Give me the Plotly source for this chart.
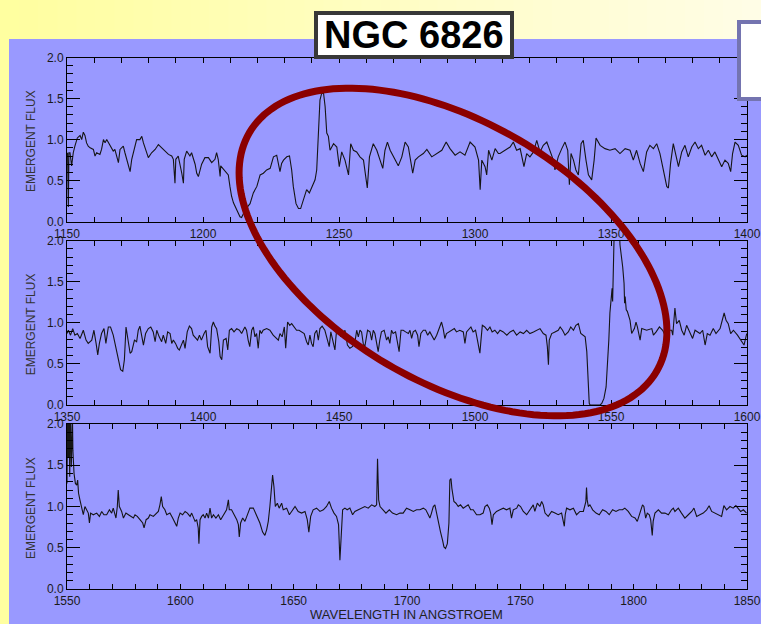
import numpy as np
import plotly.graph_objects as go

W, H = 761, 624

# ---------------- data (wavelength in Angstrom, emergent flux) ----------------
spec1 = [(1150.2,0.84),(1150.5,0.18),(1150.7,0.84),(1151.1,0.84),(1151.7,0.68),(1152.3,0.84),(1152.9,0.92),(1153.8,1.02),(1154.8,1.05),(1155.4,1.00),(1156.0,1.09),(1156.6,1.05),(1157.2,0.96),(1157.8,0.92),(1158.5,0.90),(1159.7,0.88),(1160.3,0.80),(1160.9,0.84),(1162.1,0.82),(1162.7,0.88),(1163.4,1.00),(1164.0,0.96),(1164.6,1.00),(1165.8,0.92),(1167.0,0.86),(1167.6,0.88),(1168.3,0.80),(1168.9,0.72),(1169.5,0.88),(1170.7,0.92),(1171.3,0.84),(1172.6,0.70),(1173.2,0.61),(1173.8,0.76),(1175.0,0.92),(1175.6,1.00),(1176.8,1.00),(1177.5,1.04),(1178.1,0.96),(1179.3,0.84),(1179.9,0.78),(1181.1,0.84),(1182.4,0.88),(1183.6,0.94),(1184.8,0.90),(1186.0,0.86),(1187.3,0.82),(1188.5,0.80),(1189.1,0.76),(1189.7,0.47),(1190.0,0.76),(1190.9,0.80),(1191.5,0.72),(1192.2,0.59),(1192.8,0.47),(1193.1,0.76),(1194.0,0.86),(1195.2,0.80),(1195.8,0.84),(1197.1,0.70),(1197.7,0.59),(1198.3,0.55),(1199.5,0.70),(1200.7,0.78),(1202.0,0.78),(1203.2,0.72),(1204.4,0.76),(1205.0,0.84),(1205.6,0.76),(1206.3,0.55),(1206.5,0.68),(1207.5,0.64),(1208.7,0.59),(1209.3,0.57),(1209.9,0.43),(1210.5,0.31),(1211.2,0.23),(1212.4,0.14),(1213.6,0.06),(1214.2,0.05),(1214.8,0.10),(1215.6,0.15),
 (1217.3,0.22),(1218.5,0.35),(1219.8,0.43),(1221.0,0.57),(1222.2,0.59),(1223.4,0.63),(1224.7,0.65),(1225.9,0.79),(1227.1,0.81),(1228.3,0.61),(1228.9,0.71),(1229.6,0.75),(1230.8,0.79),(1231.8,0.80),(1232.6,0.63),(1233.2,0.43),(1234.2,0.22),(1235.1,0.16),(1235.9,0.16),(1236.9,0.26),(1238.1,0.39),(1239.1,0.35),(1240.3,0.43),(1241.2,0.51),(1241.8,0.63),(1242.4,0.99),(1243.0,1.48),(1243.6,1.56),(1244.3,1.57),(1244.9,1.40),(1245.5,1.08),(1246.1,1.04),(1246.7,0.87),(1248.0,0.95),(1249.2,0.91),(1250.1,0.67),(1251.0,0.85),(1252.2,0.75),(1253.5,0.57),(1254.3,0.95),(1255.3,0.87),(1256.5,0.85),(1257.7,0.79),(1259.0,0.75),(1260.4,0.41),(1261.2,0.79),(1262.6,0.95),(1263.9,0.87),(1265.1,0.75),(1266.1,0.65),(1266.9,0.87),(1267.8,0.97),(1268.8,0.87),(1270.0,0.79),(1271.8,0.68),(1273.1,0.79),(1274.3,0.97),(1275.5,0.91),(1276.4,0.75),(1277.1,0.59),(1278.0,0.75),(1279.2,0.79),(1281.0,0.83),(1282.3,0.88),(1284.1,0.79),(1285.9,0.83),(1287.8,0.87),(1289.4,0.97),(1290.8,0.89),(1292.7,0.81),(1294.5,0.85),(1296.3,0.81),(1298.2,0.97),(1300.0,0.91),(1301.3,0.75),(1301.9,0.39),(1302.5,0.75),(1303.7,0.67),(1304.3,0.57),(1305.0,0.87),(1306.2,0.75),(1307.4,0.89),(1308.6,0.83),
 (1309.2,0.83),(1311.0,0.87),(1312.9,0.91),(1314.1,0.97),(1315.3,0.87),(1316.6,0.89),(1318.0,0.67),(1319.0,0.83),(1320.2,0.79),(1321.5,0.85),(1322.7,0.99),(1323.9,0.85),(1325.1,0.93),(1326.4,0.97),(1327.6,0.85),(1328.8,0.75),(1329.4,0.63),(1330.6,0.79),(1331.9,0.89),(1333.1,0.97),(1334.1,0.87),(1334.7,0.45),(1335.3,0.83),(1336.2,0.75),(1337.1,0.63),(1338.0,0.57),(1339.0,0.95),(1339.8,0.99),(1340.8,0.75),(1341.7,0.57),(1342.9,0.51),(1343.8,0.75),(1344.5,1.02),(1346.0,0.93),(1347.8,0.89),(1349.6,0.87),(1351.5,0.89),(1353.3,0.83),(1355.2,0.89),(1357.0,0.87),(1358.2,0.75),(1359.4,0.87),(1360.7,0.71),(1361.9,0.61),(1363.1,0.85),(1364.3,0.93),(1365.6,0.89),(1366.8,0.95),(1368.0,0.83),(1369.2,0.63),(1370.5,0.43),(1371.1,0.41),(1371.9,0.71),(1372.9,0.95),(1373.9,0.81),(1374.8,0.67),(1376.0,0.85),(1377.2,0.93),(1378.4,0.79),(1379.7,0.91),(1380.9,0.97),(1382.1,0.89),(1383.3,0.93),(1384.6,0.81),(1385.8,0.87),(1387.0,0.79),(1388.2,0.85),(1389.5,0.75),(1390.7,0.67),(1391.9,0.75),(1393.1,0.71),(1394.0,0.61),(1394.7,0.83),(1395.6,0.97),(1396.8,0.93),(1398.0,0.81),(1399.3,0.79),(1399.9,0.81)]

spec2 = [(1350.0,0.87),(1350.5,0.91),(1351.3,0.85),(1352.1,0.93),(1352.9,0.85),(1353.8,0.87),(1354.8,0.81),(1356.0,0.91),(1357.0,0.79),(1357.8,0.75),(1359.1,0.79),(1359.9,0.91),(1360.7,0.75),(1361.3,0.61),(1361.9,0.75),(1362.7,0.87),(1363.6,0.93),(1364.3,0.75),(1365.2,0.95),(1366.0,0.95),(1367.0,0.85),(1367.9,0.71),(1368.9,0.55),(1369.7,0.43),(1370.5,0.41),(1371.1,0.55),(1371.7,0.95),(1372.5,0.79),(1373.2,0.63),(1373.8,0.65),(1374.8,0.79),(1375.6,0.77),(1376.2,0.91),(1376.8,0.96),(1377.5,0.85),(1378.1,0.73),(1378.9,0.87),(1379.9,0.93),(1380.8,0.95),(1381.7,0.89),(1382.4,0.77),(1383.0,0.91),(1383.9,0.83),(1384.8,0.77),(1385.4,0.85),(1386.3,0.75),(1387.0,0.89),(1387.9,0.87),(1388.5,0.75),(1389.1,0.79),(1389.9,0.75),(1390.7,0.69),(1391.3,0.67),(1392.2,0.73),(1392.8,0.79),(1393.4,0.69),(1394.2,0.89),(1395.0,0.96),(1395.8,0.93),(1396.4,0.85),(1397.4,0.81),(1398.0,0.79),(1398.7,0.85),(1399.4,0.79),(1400.4,0.87),(1401.1,0.91),(1401.7,0.71),(1402.6,0.63),(1403.2,0.95),(1403.8,1.01),(1404.4,0.96),(1405.0,0.93),(1405.8,0.77),(1406.3,0.59),(1406.9,0.55),(1407.5,0.79),(1408.5,0.81),(1409.1,0.67),(1409.7,0.91),(1410.5,0.93),(1411.4,0.89),(1412.4,0.93),(1413.4,0.91),(1414.2,0.87),
 (1415.4,0.95),(1416.0,0.91),(1416.6,0.79),(1417.2,0.71),(1417.9,0.91),(1418.5,0.95),(1419.1,0.83),(1419.7,0.87),(1420.3,0.69),(1420.9,0.91),(1421.5,0.87),(1422.1,0.91),(1423.4,0.93),(1424.6,0.91),(1425.8,0.85),(1426.4,0.83),(1427.7,0.79),(1428.3,0.87),(1429.1,0.83),(1429.9,0.95),(1430.4,0.69),(1431.1,1.01),(1431.9,0.97),(1432.6,0.99),(1433.5,0.95),(1434.4,0.91),(1435.3,0.91),(1436.2,0.89),(1437.2,0.87),(1438.1,0.77),(1438.7,0.73),(1439.3,0.85),(1439.9,0.75),(1440.5,0.71),(1441.1,0.87),(1441.8,0.91),(1442.4,0.79),(1443.0,0.93),(1443.8,0.96),(1444.8,0.91),(1445.8,0.79),(1446.4,0.71),(1447.0,0.89),(1447.8,0.79),(1448.5,0.67),(1449.1,0.91),(1450.0,0.91),(1450.7,0.83),(1451.6,0.87),(1452.2,0.91),(1453.1,0.73),(1454.0,0.69),(1454.9,0.71),(1455.8,0.75),(1456.5,0.91),(1457.1,0.83),(1457.7,0.91),(1458.3,0.89),(1458.9,0.75),(1459.5,0.71),(1460.5,0.91),(1461.4,0.89),(1462.0,0.79),(1462.6,0.91),(1463.2,0.87),(1463.8,0.75),(1464.4,0.65),(1465.0,0.79),(1465.6,0.89),(1466.6,0.91),(1467.5,0.79),(1468.1,0.83),(1468.7,0.75),(1469.3,0.91),(1469.9,0.87),(1470.8,0.89),(1471.5,0.77),(1472.1,0.65),(1472.8,0.91),(1473.6,0.91),(1474.5,0.89),(1475.5,0.87),(1476.1,0.91),(1476.7,0.81),(1477.3,0.89),(1478.1,0.91),(1478.9,0.85),(1479.4,0.71),(1480.1,0.87),(1481.0,0.91),(1481.8,0.91),(1482.6,0.85),(1483.4,0.89),(1484.3,0.83),(1485.0,0.79),(1485.9,0.85),(1486.5,0.91),(1487.1,0.95),(1487.7,1.01),(1488.3,0.93),(1488.9,0.81),(1489.5,0.87),(1490.4,0.89),(1491.4,0.91),(1492.4,0.93),(1493.2,0.89),(1494.4,0.91),(1495.7,0.89),(1496.3,0.75),(1496.9,0.89),(1497.5,0.91),(1498.5,0.95),(1499.3,0.89),(1500.2,0.91),(1500.9,0.79),(1501.4,0.67),(1501.8,0.63),(1502.2,0.79),(1502.7,0.97),(1503.6,0.95),(1504.6,0.91),(1505.5,0.95),(1506.3,0.89),(1507.3,0.91),(1508.3,0.87),
 (1509.2,0.91),(1510.4,0.89),(1511.7,0.85),(1512.9,0.89),(1514.1,0.91),(1515.3,0.85),(1516.6,0.89),(1517.8,0.87),(1519.0,0.91),(1520.2,0.87),(1521.5,0.89),(1522.7,0.91),(1523.9,0.93),(1525.1,0.87),(1526.1,0.85),(1526.6,0.71),(1527.0,0.49),(1527.3,0.79),(1528.2,0.87),(1529.4,0.89),(1530.6,0.91),(1531.3,0.95),(1532.2,0.91),(1533.1,0.85),(1534.3,0.89),(1535.2,0.95),(1536.2,0.91),(1537.1,0.97),(1538.0,0.99),(1538.9,0.87),(1539.8,0.85),(1540.5,0.83),(1541.1,0.65),(1541.4,0.43),(1541.8,0.22),(1542.0,0.02),(1542.3,0.0),(1546.0,0.0),(1546.6,0.02),(1547.4,0.08),(1548.2,0.22),(1548.7,0.47),(1549.2,0.79),(1549.6,1.12),(1550.0,1.32),(1550.4,1.42),(1550.6,1.26),(1550.9,1.72),(1551.3,2.3),(1552.8,2.4),(1553.3,1.95),(1554.3,1.68),(1554.8,1.48),(1555.0,1.24),(1555.2,1.32),(1555.6,1.16),(1556.0,1.14),(1557.0,1.03),(1557.6,0.87),(1558.6,0.93),(1559.2,1.01),(1559.7,0.95),(1560.4,0.85),(1560.7,0.79),(1561.3,0.93),(1563.1,0.91),(1565.0,0.93),(1565.6,0.85),(1566.6,0.89),(1567.8,0.95),(1569.0,0.91),(1569.9,0.85),(1571.1,0.91),(1572.3,0.91),(1572.7,0.85),(1573.5,1.18),(1574.1,0.99),(1575.1,1.03),(1576.0,0.91),(1576.9,0.85),(1577.8,0.97),(1578.8,0.89),(1580.0,0.81),(1580.9,0.91),(1581.7,0.89),(1582.7,0.87),(1583.7,0.91),(1584.6,0.73),(1585.4,0.87),(1586.4,0.85),(1587.6,0.93),(1588.6,0.87),(1590.1,0.93),(1591.6,1.12),(1592.3,1.03),(1593.1,0.99),(1594.0,0.87),(1595.0,0.91),(1596.5,0.85),(1597.7,0.79),(1598.9,0.73),(1599.9,0.87)]

spec3 = [(1550.0,1.28),(1550.3,2.2),(1550.6,1.60),(1550.9,2.1),(1551.2,1.36),(1551.5,2.2),(1551.9,1.48),(1552.4,2.1),(1552.6,1.68),(1553.1,1.40),(1553.7,1.28),(1554.3,1.26),(1554.7,1.32),(1555.1,1.16),(1555.7,1.08),(1556.5,0.96),(1557.2,0.90),(1557.9,1.00),(1558.7,0.96),(1559.4,0.92),(1559.9,0.80),(1560.4,0.92),(1561.6,0.90),(1563.1,0.92),(1564.3,0.88),(1565.3,0.94),(1566.3,0.90),(1567.5,0.90),(1568.7,0.96),(1569.7,0.92),(1570.4,0.98),(1571.2,0.90),(1571.6,0.86),(1572.2,1.00),(1572.6,1.20),(1573.1,1.00),(1574.1,0.94),(1574.9,0.86),(1576.0,0.92),(1577.1,0.90),(1578.1,0.88),(1579.3,0.86),(1580.0,0.90),(1581.0,0.88),(1582.2,0.84),(1583.4,0.80),(1584.0,0.74),(1584.9,0.84),(1585.9,0.86),(1586.6,0.90),(1588.1,0.88),(1589.3,0.92),(1590.3,0.94),(1591.0,1.02),(1591.6,1.12),(1592.2,1.00),(1593.2,0.96),(1594.0,0.90),(1595.4,0.92),(1596.6,0.86),(1597.6,0.80),(1598.4,0.76),(1599.1,0.86),(1599.9,0.92),(1601.0,0.90),(1602.1,0.94),(1603.1,0.92),(1604.3,0.88),(1605.0,0.92),(1605.7,0.86),(1606.5,0.82),(1607.2,0.84),(1607.9,0.74),(1608.2,0.55),(1608.7,0.84),(1609.4,0.88),(1610.1,0.90),(1610.9,0.86),(1611.6,0.92),(1612.4,0.86),(1613.1,0.98),(1613.8,0.86),(1614.6,0.90),(1615.7,0.86),(1616.8,0.90),(1617.8,0.84),(1618.7,0.88),(1619.4,0.90),(1620.4,0.96),(1621.2,1.08),(1621.6,0.96),(1622.6,0.96),(1623.4,0.92),(1624.1,0.88),(1624.9,0.84),(1625.6,0.78),(1626.0,0.63),(1626.6,0.80),(1627.5,0.86),(1628.5,0.82),(1629.6,0.90),
 (1630.7,0.98),(1632.2,0.98),(1633.6,0.90),(1635.1,0.80),(1636.3,0.69),(1637.3,0.65),(1638.1,0.72),(1638.8,0.82),(1639.5,1.00),(1640.3,1.28),(1640.7,1.38),(1641.3,1.24),(1641.9,1.00),(1642.8,1.04),(1643.6,0.98),(1644.7,1.04),(1645.4,0.96),(1646.9,0.98),(1648.1,0.90),(1649.1,0.94),(1650.6,1.00),(1652.0,0.94),(1653.5,0.92),(1655.0,0.94),(1656.0,0.84),(1656.7,0.69),(1657.5,0.88),(1658.6,0.96),(1660.1,0.98),(1661.6,0.94),(1663.1,0.96),(1664.5,1.00),(1665.7,1.06),(1666.7,0.98),(1667.8,0.92),(1668.9,0.88),(1669.8,0.78),(1670.4,0.35),(1670.9,0.67),(1671.6,0.96),(1672.6,0.98),(1673.6,0.96),(1674.8,0.98),(1676.0,0.90),(1677.0,0.94),(1678.5,0.96),(1680.0,0.98),(1681.4,1.00),(1682.9,0.98),(1684.4,1.02),(1685.8,1.00),(1686.6,1.02),(1687.0,1.58),(1687.5,1.08),(1688.1,1.00),(1689.2,0.96),(1690.7,0.92),(1692.2,0.96),(1693.6,0.92),(1695.4,0.90),(1696.9,0.92),(1698.3,0.92),(1699.8,0.98),(1701.3,0.96),(1702.8,0.94),(1704.2,0.96),(1705.7,0.96),(1707.2,0.98),(1708.3,0.96),(1709.4,0.90),(1710.1,0.86),(1710.8,0.92),(1711.6,1.00),(1712.3,1.02),(1713.1,0.90),(1713.8,0.80),(1714.8,0.69),(1715.7,0.59),(1716.3,0.51),(1717.0,0.49),(1717.8,0.55),(1718.5,0.80),(1718.9,1.32),(1719.4,1.34),(1719.8,1.22),(1720.7,1.06),(1721.6,1.04),(1722.6,1.00),(1723.6,1.02),(1724.8,0.98),(1726.0,1.00),(1727.0,1.02),(1728.1,0.96),(1729.2,0.96),(1730.7,0.90),(1732.2,0.90),(1733.6,0.92),(1734.4,1.00),(1735.4,1.02),(1736.3,0.98),(1736.9,0.92),(1737.5,0.78),(1738.1,0.90),(1739.5,0.94),
 (1741.0,0.96),(1742.5,0.98),(1743.9,0.96),(1745.4,0.98),(1746.1,0.86),(1746.9,0.96),(1748.4,0.98),(1749.1,1.02),(1750.1,1.00),(1751.3,0.94),(1752.8,0.90),(1754.2,0.96),(1755.7,1.02),(1756.4,0.94),(1757.5,1.04),(1758.6,1.00),(1759.4,1.06),(1760.1,1.02),(1760.9,0.92),(1762.3,0.88),(1763.8,0.94),(1765.3,0.92),(1766.7,0.90),(1768.2,0.92),(1768.9,0.84),(1769.4,0.76),(1769.8,0.90),(1770.4,0.98),(1771.9,0.96),(1773.4,0.98),(1774.8,0.90),(1776.3,0.94),(1777.8,0.94),(1778.5,1.00),(1778.9,1.06),(1779.2,1.23),(1779.5,1.08),(1780.0,1.00),(1780.7,1.02),(1781.9,0.96),(1783.4,0.92),(1784.8,0.90),(1786.3,0.96),(1787.8,0.94),(1789.2,0.90),(1790.7,0.96),(1792.2,0.94),(1793.6,0.96),(1795.1,0.96),(1796.1,0.98),(1797.6,0.94),(1799.1,0.88),(1800.6,0.86),(1801.6,0.82),(1802.5,0.90),(1803.1,0.96),(1803.9,1.02),(1804.5,1.00),(1805.3,0.86),(1806.0,0.92),(1806.9,0.90),(1807.5,0.84),(1808.2,0.65),(1808.6,0.82),(1809.4,0.92),(1810.9,0.96),(1812.3,0.92),(1813.8,0.92),(1815.3,0.90),(1816.7,0.96),(1817.5,0.98),(1818.2,0.94),(1819.7,0.98),(1821.1,0.92),(1822.6,0.86),(1824.1,0.90),(1825.6,0.94),(1826.6,0.98),(1827.8,0.88),(1829.2,0.90),(1830.7,0.92),(1832.2,0.96),(1833.3,1.01),(1834.4,0.94),(1835.9,0.92),(1837.3,0.90),(1838.8,0.88),(1839.8,1.01),(1841.0,0.96),(1842.5,1.00),(1843.9,0.98),(1845.1,1.01),(1846.1,0.98),(1847.2,0.94),(1848.4,0.96),(1849.8,0.92)]

x_ranges = [(1150, 1400), (1350, 1600), (1550, 1850)]
y_range = (0, 2)
title_text = "NGC 6826"
y_title = "EMERGENT FLUX"
x_title = "WAVELENGTH IN ANGSTROEM"

# ---------------- layout geometry (pixels) ----------------
def fx(x):
    return x / W

def fy(y):
    return 1 - y / H

PX0, PX1 = 67, 747
panel_px = [(57.5, 221.7), (240.7, 405.0), (424.0, 589.0)]

FONT = "Liberation Sans, Arial, Helvetica, sans-serif"
fig = go.Figure()

for i, spec in enumerate([spec1, spec2, spec3]):
    wl = [p[0] for p in spec]
    fl = [p[1] for p in spec]
    sfx = "" if i == 0 else str(i + 1)
    fig.add_trace(go.Scatter(x=wl, y=fl, mode="lines",
                             line=dict(color="#151515", width=1.1),
                             xaxis="x" + sfx, yaxis="y" + sfx,
                             showlegend=False, hoverinfo="skip"))

layout_axes = {}
for i, ((top, bot), (x0, x1)) in enumerate(zip(panel_px, x_ranges)):
    sfx = "" if i == 0 else str(i + 1)
    layout_axes["xaxis" + sfx] = dict(
        domain=[fx(PX0), fx(PX1)], range=[x0, x1], anchor="y" + sfx,
        tick0=x0, dtick=50, ticks="inside", ticklen=5, tickwidth=1, tickcolor="black",
        minor=dict(dtick=10, ticks="inside", ticklen=5, tickwidth=1, tickcolor="black"),
        showline=True, linecolor="black", linewidth=1, mirror="allticks",
        showgrid=False, zeroline=False, automargin=False, fixedrange=True,
        ticklabelstandoff=1,
        tickfont=dict(family=FONT, size=12, color="#1a1a1a"))
    layout_axes["yaxis" + sfx] = dict(
        domain=[fy(bot), fy(top)], range=list(y_range), anchor="x" + sfx,
        tick0=0, dtick=0.5, tickformat=".1f", ticks="inside", ticklen=13, tickwidth=1,
        tickcolor="black",
        minor=dict(dtick=0.1, ticks="inside", ticklen=6, tickwidth=1, tickcolor="black"),
        showline=True, linecolor="black", linewidth=1, mirror="allticks",
        showgrid=False, zeroline=False, automargin=False, fixedrange=True,
        tickfont=dict(family=FONT, size=12, color="#1a1a1a"))

shapes = []
# yellow gradient background (slide)
n = 40
for k in range(n):
    t = k / (n - 1)
    r, g, b = 255, int(255 - 2 * t), int(160 + 70 * t)
    shapes.append(dict(type="rect", xref="paper", yref="paper",
                       x0=k / n, x1=(k + 1) / n + 0.002, y0=0, y1=1,
                       fillcolor=f"rgb({r},{g},{b})", line=dict(width=0), layer="below"))
# blue chart area
shapes.append(dict(type="rect", xref="paper", yref="paper",
                   x0=fx(9), x1=1.0, y0=0, y1=fy(39),
                   fillcolor="#9999ff", line=dict(width=0), layer="below"))
# white box top right
shapes.append(dict(type="rect", xref="paper", yref="paper",
                   x0=fx(739), x1=fx(775), y0=fy(99), y1=fy(22),
                   fillcolor="white", line=dict(color="#7474b0", width=4), layer="above"))
# title box
shapes.append(dict(type="rect", xref="paper", yref="paper",
                   x0=fx(316), x1=fx(512), y0=fy(57), y1=fy(13),
                   fillcolor="white", line=dict(color="#383838", width=4), layer="above"))
# red ellipse
cx, cy, a, b, th = 453, 252, 236, 130, np.radians(30.4)
t = np.linspace(0, 2 * np.pi, 181)
ex = cx + a * np.cos(th) * np.cos(t) - b * np.sin(th) * np.sin(t)
ey = cy + a * np.sin(th) * np.cos(t) + b * np.cos(th) * np.sin(t)
path = "M " + " L ".join(f"{fx(u):.5f},{fy(v):.5f}" for u, v in zip(ex, ey)) + " Z"
shapes.append(dict(type="path", xref="paper", yref="paper", path=path,
                   line=dict(color="#8b0000", width=7), fillcolor="rgba(0,0,0,0)",
                   layer="above"))

annotations = [
    dict(text=title_text, xref="paper", yref="paper", x=fx(414), y=fy(35),
         showarrow=False, xanchor="center", yanchor="middle",
         font=dict(family=FONT, size=38, color="black", weight="bold")),
    dict(text=x_title, xref="paper", yref="paper", x=fx(406), y=fy(614.5),
         showarrow=False, xanchor="center", yanchor="middle",
         font=dict(family=FONT, size=13, color="#222")),
]
for (top, bot) in panel_px:
    annotations.append(dict(text=y_title, xref="paper", yref="paper",
                            x=fx(30.5), y=fy((top + bot) / 2 + 2), textangle=-90,
                            showarrow=False, xanchor="center", yanchor="middle",
                            font=dict(family=FONT, size=12, color="#333")))

fig.update_layout(
    width=W, height=H, margin=dict(l=0, r=0, t=0, b=0, pad=0),
    paper_bgcolor="#ffffb0", plot_bgcolor="rgba(0,0,0,0)",
    showlegend=False, shapes=shapes, annotations=annotations, **layout_axes)

fig.write_html("out.html")
